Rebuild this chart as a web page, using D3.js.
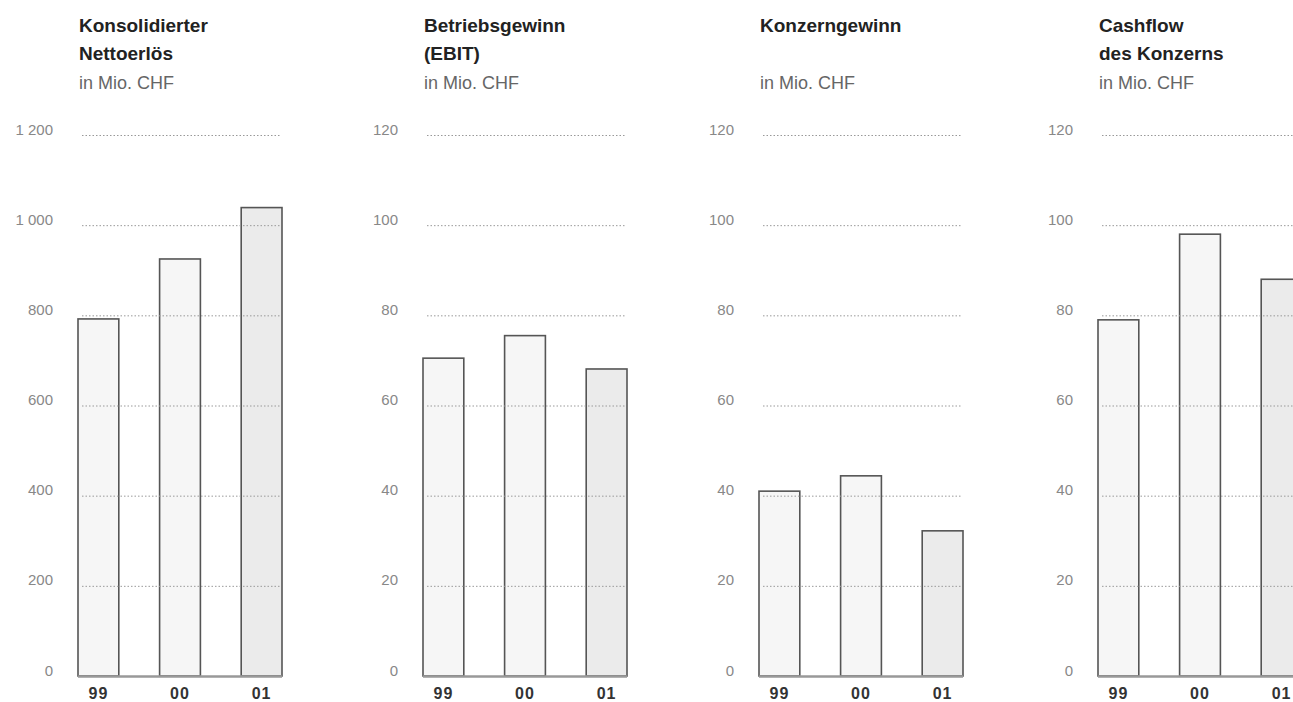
<!DOCTYPE html>
<html>
<head>
<meta charset="utf-8">
<script src="https://cdn.jsdelivr.net/npm/d3@7"></script>
<style>
  html, body { margin: 0; padding: 0; background: #fff; }
  svg { display: block; }
</style>
</head>
<body>
<svg id="chart" width="1293" height="702"></svg>
<script>
// Fiscal years shown in every panel
const years = ["99", "00", "01"];

// Key figures in Mio. CHF
const nettoerloes = [792, 925, 1039];
const ebit = [70.5, 75.5, 68.1];
const konzerngewinn = [41.0, 44.4, 32.2];
const cashflow = [79.0, 98.0, 88.0];

// Panel headings (bold lines, then unit line)
const titleRevenue = ["Konsolidierter", "Nettoerlös"];
const titleEbit = ["Betriebsgewinn", "(EBIT)"];
const titleProfit = ["Konzerngewinn", ""];
const titleCashflow = ["Cashflow", "des Konzerns"];
const unitLabel = "in Mio. CHF";

// Axis ticks
const ticksRevenue = [0, 200, 400, 600, 800, 1000, 1200];
const ticksSmall = [0, 20, 40, 60, 80, 100, 120];

const panels = [
  { title: titleRevenue, values: nettoerloes, ticks: ticksRevenue, max: 1200 },
  { title: titleEbit, values: ebit, ticks: ticksSmall, max: 120 },
  { title: titleProfit, values: konzerngewinn, ticks: ticksSmall, max: 120 },
  { title: titleCashflow, values: cashflow, ticks: ticksSmall, max: 120 }
];

const panelLeft = [78, 423, 759, 1098];
const plotWidth = 204;
const yTop = 135, yBottom = 676;

const fontFamily = "'Liberation Sans', Arial, sans-serif";
const numFmt = d3.formatLocale({ decimal: ".", thousands: " ", grouping: [3], currency: ["", ""] }).format(",d");

const svg = d3.select("#chart");
const barFills = ["#f6f6f6", "#f6f6f6", "#ebebeb"];

panels.forEach((p, i) => {
  const x0 = panelLeft[i];
  const g = svg.append("g").attr("transform", `translate(${x0},0)`);

  const x = d3.scaleBand().domain(years).range([0, plotWidth]).paddingInner(0.5).paddingOuter(0);
  const y = d3.scaleLinear().domain([0, p.max]).range([yBottom, yTop]);

  // heading
  const head = g.append("text")
    .attr("font-family", fontFamily);
  p.title.forEach((line, k) => {
    head.append("tspan").attr("x", 1).attr("y", 32 + k * 27.5)
      .attr("font-size", 19)
      .attr("font-weight", 700).attr("fill", "#222").text(line);
  });
  head.append("tspan").attr("x", 1).attr("y", 89)
    .attr("font-size", 18)
    .attr("font-weight", 400).attr("fill", "#666").text(unitLabel);

  // bars
  g.selectAll("rect.bar").data(p.values).join("rect")
    .attr("class", "bar")
    .attr("x", (d, j) => x(years[j]))
    .attr("y", d => y(d))
    .attr("width", x.bandwidth())
    .attr("height", d => y(0) - y(d))
    .attr("fill", (d, j) => barFills[j])
    .attr("stroke", "#555")
    .attr("stroke-width", 1.6);

  // value labels on the left
  const axis = d3.axisLeft(y).tickValues(p.ticks).tickSize(0).tickPadding(0)
    .tickFormat(d => numFmt(d));
  const ag = g.append("g").attr("transform", "translate(-25,0)").call(axis);
  ag.select(".domain").remove();
  ag.selectAll("text")
    .attr("font-family", fontFamily)
    .attr("font-size", 15)
    .attr("fill", "#888")
    .attr("dy", "-1");

  // dotted gridlines
  g.selectAll("line.grid").data(p.ticks.filter(t => t > 0)).join("line")
    .attr("class", "grid")
    .attr("x1", 4).attr("x2", plotWidth - 2)
    .attr("y1", d => y(d) + 0.5).attr("y2", d => y(d) + 0.5)
    .attr("stroke", "#999").attr("stroke-width", 1)
    .attr("stroke-dasharray", "1.5,2");

  // baseline
  g.append("line")
    .attr("x1", 0).attr("x2", plotWidth)
    .attr("y1", y(0) + 0.5).attr("y2", y(0) + 0.5)
    .attr("stroke", "#999").attr("stroke-width", 2.5);

  // year labels
  const xa = d3.axisBottom(x).tickSize(0).tickPadding(0);
  const xg = g.append("g").attr("transform", `translate(0,${yBottom})`).call(xa);
  xg.select(".domain").remove();
  xg.selectAll("text")
    .attr("font-family", fontFamily)
    .attr("font-size", 16)
    .attr("font-weight", 700)
    .attr("letter-spacing", 1)
    .attr("fill", "#333")
    .attr("y", 23)
    .attr("dy", null);
});
</script>
</body>
</html>
